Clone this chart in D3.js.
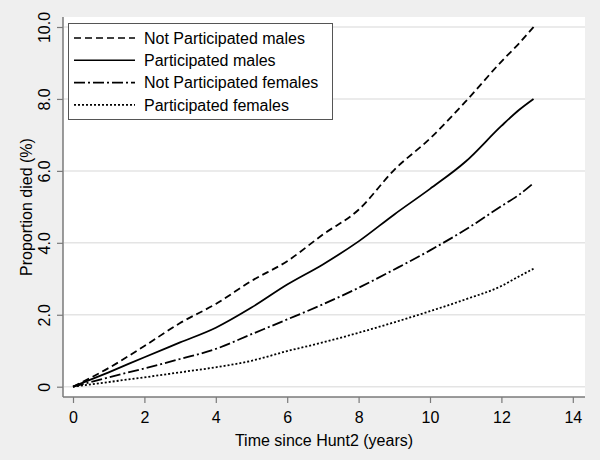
<!DOCTYPE html>
<html>
<head>
<meta charset="utf-8">
<script src="https://cdn.jsdelivr.net/npm/d3@7"></script>
<style>
    body { margin: 0; background: #efefef; }
    svg { display: block; font-family: "Liberation Sans", Arial, sans-serif; }
</style>
</head>
<body>
<div id="chart"></div>
<script>
// years since Hunt2
var time = [0, 1, 2, 3, 4, 5, 6, 7, 8, 9, 10, 11, 12, 12.5, 12.9];

// proportion died (%)
var npMales   = [0, 0.52, 1.13, 1.77, 2.30, 2.94, 3.49, 4.23, 4.92, 6.03, 6.90, 7.93, 9.04, 9.55, 10.0];
var pMales    = [0, 0.40, 0.82, 1.23, 1.64, 2.20, 2.84, 3.40, 4.04, 4.79, 5.50, 6.26, 7.25, 7.70, 8.0];
var npFemales = [0, 0.26, 0.51, 0.77, 1.05, 1.46, 1.87, 2.29, 2.75, 3.26, 3.79, 4.37, 5.02, 5.34, 5.66];
var pFemales  = [0, 0.13, 0.26, 0.40, 0.54, 0.72, 0.99, 1.23, 1.50, 1.79, 2.10, 2.43, 2.80, 3.07, 3.28];

var seriesNames = ["Not Participated males", "Participated males", "Not Participated females", "Participated females"];
var xTicks = [0, 2, 4, 6, 8, 10, 12, 14];
var yTicks = [0, 2, 4, 6, 8, 10];
var yTickLabels = ["0", "2.0", "4.0", "6.0", "8.0", "10.0"];

var width = 600, height = 460;
var plot = {left: 63, right: 585, top: 17, bottom: 397};

var dashes = ["7,4", null, "11,3,2,3", "2,2"];
var values = [npMales, pMales, npFemales, pFemales];

var svg = d3.select("#chart")
    .append("svg")
    .attr("width", width)
    .attr("height", height);

svg.append("rect")
    .attr("width", width)
    .attr("height", height)
    .attr("fill", "#efefef");

svg.append("rect")
    .attr("x", plot.left)
    .attr("y", plot.top)
    .attr("width", plot.right - plot.left)
    .attr("height", plot.bottom - plot.top)
    .attr("fill", "#ffffff");

var x = d3.scaleLinear().domain([0, 14]).range([73, 572.8]);
var y = d3.scaleLinear().domain([0, 10]).range([386.7, 27]);

// grid
svg.selectAll("line.grid")
    .data(yTicks)
    .enter()
    .append("line")
    .attr("class", "grid")
    .attr("x1", plot.left + 1)
    .attr("x2", plot.right)
    .attr("y1", function (d) { return y(d); })
    .attr("y2", function (d) { return y(d); })
    .attr("stroke", "#e4e4e4")
    .attr("stroke-width", 1.5);

// axes
var xAxis = svg.append("g")
    .attr("transform", "translate(0," + plot.bottom + ")")
    .call(d3.axisBottom(x).tickValues(xTicks).tickSize(6).tickPadding(9).tickSizeOuter(0));

var yAxis = svg.append("g")
    .attr("transform", "translate(" + plot.left + ",0)")
    .call(d3.axisLeft(y).tickValues(yTicks).tickSize(6).tickSizeOuter(0)
        .tickFormat(function (d, i) { return yTickLabels[i]; }));

xAxis.select(".domain").attr("d", "M" + plot.left + ",0H" + plot.right);
yAxis.select(".domain").attr("d", "M0," + plot.top + "V" + plot.bottom);

[xAxis, yAxis].forEach(function (a) {
    a.select(".domain").attr("stroke", "#7a7a7a").attr("stroke-width", 1.5);
    a.selectAll(".tick line").attr("stroke", "#7a7a7a").attr("stroke-width", 1.2);
    a.selectAll(".tick text")
        .attr("fill", "#000")
        .style("font-size", "16px")
        .style("font-family", "'Liberation Sans', Arial, sans-serif");
});

yAxis.selectAll(".tick text")
    .attr("transform", "rotate(-90)")
    .attr("x", 0)
    .attr("y", -13)
    .attr("dy", 0)
    .attr("text-anchor", "middle");

// axis titles
svg.append("text")
    .attr("x", (plot.left + plot.right) / 2)
    .attr("y", 446)
    .attr("text-anchor", "middle")
    .style("font-size", "16px")
    .text("Time since Hunt2 (years)");

svg.append("text")
    .attr("transform", "translate(32," + ((plot.top + plot.bottom) / 2) + ") rotate(-90)")
    .attr("text-anchor", "middle")
    .style("font-size", "16px")
    .text("Proportion died (%)");

// lines
var line = d3.line()
    .x(function (d) { return x(d[0]); })
    .y(function (d) { return y(d[1]); })
    .curve(d3.curveMonotoneX);

values.forEach(function (vals, i) {
    svg.append("path")
        .datum(time.map(function (t, j) { return [t, vals[j]]; }))
        .attr("d", line)
        .attr("fill", "none")
        .attr("stroke", "#000")
        .attr("stroke-width", 1.8)
        .attr("stroke-dasharray", dashes[i]);
});

// legend
var legend = svg.append("g");
legend.append("rect")
    .attr("x", 68.5)
    .attr("y", 23.5)
    .attr("width", 264)
    .attr("height", 96)
    .attr("fill", "#fff")
    .attr("stroke", "#555")
    .attr("stroke-width", 1);

var rows = legend.selectAll("g.row")
    .data(seriesNames)
    .enter()
    .append("g")
    .attr("transform", function (d, i) { return "translate(0," + (38 + i * 22.3) + ")"; });

rows.append("line")
    .attr("x1", 74)
    .attr("x2", 135)
    .attr("stroke", "#000")
    .attr("stroke-width", 1.6)
    .attr("stroke-dasharray", function (d, i) { return dashes[i]; });

rows.append("text")
    .attr("x", 144)
    .attr("dy", "0.35em")
    .style("font-size", "16px")
    .text(function (d) { return d; });
</script>
</body>
</html>
